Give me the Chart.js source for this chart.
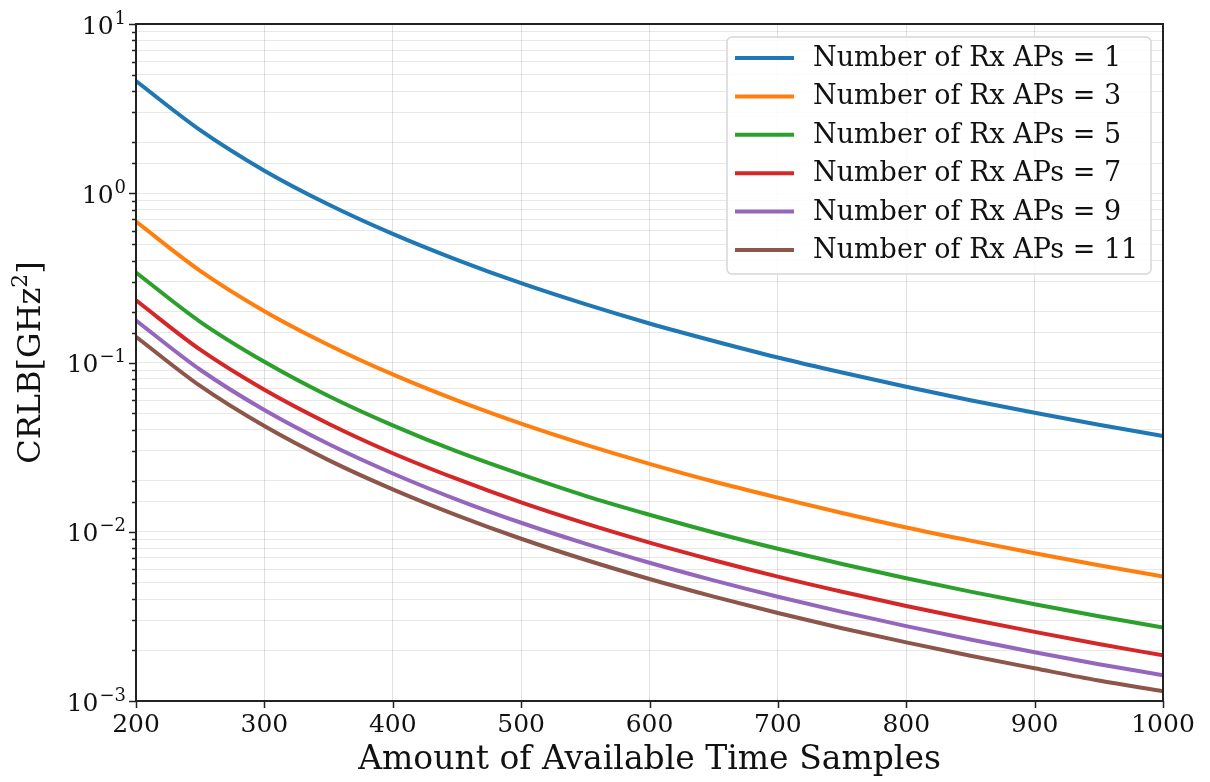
<!DOCTYPE html>
<html>
<head>
<meta charset="utf-8">
<script src="https://cdn.jsdelivr.net/npm/chart.js@4/dist/chart.umd.min.js"></script>
<style>
  html, body { margin: 0; padding: 0; background: #fff; }
  #wrap { width: 1210px; height: 782px; }
</style>
</head>
<body>
<div id="wrap"><canvas id="crlb"></canvas></div>
<script>
// time samples on the x axis
var samples = [200, 250, 300, 350, 400, 450, 500, 550, 600, 650, 700, 750, 800, 850, 900, 950, 1000];

// CRLB values per number of receiving APs
var ap1  = [4.60, 2.36, 1.36, 0.858, 0.575, 0.404, 0.294, 0.221, 0.170, 0.134, 0.107, 0.0872, 0.0719, 0.0599, 0.0505, 0.0429, 0.0368];
var ap3  = [0.680, 0.348, 0.201, 0.127, 0.0850, 0.0597, 0.0435, 0.0327, 0.0252, 0.0198, 0.0159, 0.0129, 0.0106, 0.00886, 0.00746, 0.00634, 0.00544];
var ap5  = [0.340, 0.174, 0.101, 0.0634, 0.0425, 0.0298, 0.0218, 0.0163, 0.0126, 0.00990, 0.00793, 0.00645, 0.00531, 0.00443, 0.00373, 0.00317, 0.00272];
var ap7  = [0.233, 0.119, 0.0690, 0.0435, 0.0291, 0.0205, 0.0149, 0.0112, 0.00863, 0.00679, 0.00543, 0.00442, 0.00364, 0.00304, 0.00256, 0.00217, 0.00186];
var ap9  = [0.177, 0.0906, 0.0524, 0.0330, 0.0221, 0.0155, 0.0113, 0.00851, 0.00656, 0.00516, 0.00413, 0.00336, 0.00277, 0.00231, 0.00194, 0.00165, 0.00142];
var ap11 = [0.142, 0.0727, 0.0421, 0.0265, 0.0178, 0.0125, 0.00909, 0.00683, 0.00526, 0.00414, 0.00331, 0.00269, 0.00222, 0.00185, 0.00156, 0.00132, 0.00114];

var labels = ['Number of Rx APs = 1', 'Number of Rx APs = 3', 'Number of Rx APs = 5',
              'Number of Rx APs = 7', 'Number of Rx APs = 9', 'Number of Rx APs = 11'];
var series = [ap1, ap3, ap5, ap7, ap9, ap11];
var colors = ['#1f77b4', '#ff7f0e', '#2ca02c', '#d62728', '#9467bd', '#8c564b'];

var serif = "'DejaVu Serif', serif";
var textColor = '#111';

function isMajor(v) {
    var e = Math.log10(v);
    return Math.abs(e - Math.round(e)) < 1e-9;
}

var datasets = series.map(function (vals, i) {
    return {
        label: labels[i],
        data: vals.map(function (v, j) { return { x: samples[j], y: v }; }),
        borderColor: colors[i],
        backgroundColor: colors[i],
        borderWidth: 4,
        pointRadius: 0,
        cubicInterpolationMode: 'monotone',
        fill: false
    };
});

// outward tick marks, decade labels with raised exponents, y title and frame
var axisDecor = {
    id: 'axisDecor',
    afterDraw: function (chart) {
        var ctx = chart.ctx;
        var area = chart.chartArea;
        var xs = chart.scales.x, ys = chart.scales.y;
        ctx.save();
        ctx.strokeStyle = '#222';
        ctx.lineWidth = 1.5;
        ctx.beginPath();
        xs.ticks.forEach(function (t) {
            var px = Math.round(xs.getPixelForValue(t.value)) + 0.5;
            ctx.moveTo(px, area.bottom);
            ctx.lineTo(px, area.bottom + 7);
        });
        ys.ticks.forEach(function (t) {
            var py = Math.round(ys.getPixelForValue(t.value)) + 0.5;
            var len = isMajor(t.value) ? 7 : 4;
            ctx.moveTo(area.left, py);
            ctx.lineTo(area.left - len, py);
        });
        ctx.stroke();

        ctx.lineWidth = 2;
        ctx.strokeRect(area.left, area.top, area.right - area.left, area.bottom - area.top);

        // y decade labels: 10 with superscript exponent
        ctx.fillStyle = textColor;
        ctx.textBaseline = 'middle';
        ys.ticks.forEach(function (t) {
            if (!isMajor(t.value)) return;
            var py = ys.getPixelForValue(t.value);
            var exp = String(Math.round(Math.log10(t.value))).replace('-', '\u2212');
            var right = area.left - 10;
            ctx.font = '18px ' + serif;
            ctx.textAlign = 'right';
            ctx.fillText(exp, right, py - 5);
            var ew = ctx.measureText(exp).width;
            ctx.font = '25px ' + serif;
            ctx.fillText('10', right - ew - 1, py + 3);
        });

        // y axis title, rotated
        ctx.translate(32, (area.top + area.bottom) / 2);
        ctx.rotate(-Math.PI / 2);
        var parts = [['CRLB[GHz', 32, 0], ['2', 22, -11], [']', 32, 0]];
        var total = 0;
        parts.forEach(function (p) { ctx.font = p[1] + 'px ' + serif; total += ctx.measureText(p[0]).width; });
        var cx = -total / 2;
        ctx.textAlign = 'left';
        parts.forEach(function (p) {
            ctx.font = p[1] + 'px ' + serif;
            ctx.fillText(p[0], cx, p[2]);
            cx += ctx.measureText(p[0]).width;
        });
        ctx.restore();
    }
};

// boxed legend in the upper right corner of the plot
var boxLegend = {
    id: 'boxLegend',
    afterDatasetsDraw: function (chart) {
        var ctx = chart.ctx;
        var x0 = 727, y0 = 37, w = 424, h = 237;
        ctx.save();
        ctx.fillStyle = 'rgba(255,255,255,0.85)';
        ctx.strokeStyle = '#d6d6d6';
        ctx.lineWidth = 1.5;
        ctx.beginPath();
        ctx.roundRect(x0, y0, w, h, 5);
        ctx.fill();
        ctx.stroke();
        ctx.font = '27px ' + serif;
        ctx.textBaseline = 'middle';
        ctx.fillStyle = textColor;
        chart.data.datasets.forEach(function (ds, i) {
            var yy = y0 + 21 + i * 38.4;
            ctx.strokeStyle = ds.borderColor;
            ctx.lineWidth = 4;
            ctx.beginPath();
            ctx.moveTo(735, yy);
            ctx.lineTo(794, yy);
            ctx.stroke();
            ctx.fillText(ds.label, 813, yy + 1);
        });
        ctx.restore();
    }
};

new Chart(document.getElementById('crlb'), {
    type: 'line',
    data: { datasets: datasets },
    plugins: [axisDecor, boxLegend],
    options: {
        responsive: true,
        maintainAspectRatio: false,
        animation: false,
        layout: { padding: { top: 24, right: 47, left: 0, bottom: 0 } },
        plugins: {
            legend: { display: false },
            tooltip: { enabled: false }
        },
        scales: {
            x: {
                type: 'linear',
                min: 200,
                max: 1000,
                afterFit: function (s) { s.height = 81; },
                border: { display: false },
                grid: { color: 'rgba(0,0,0,0.12)', lineWidth: 1, drawTicks: false },
                ticks: {
                    stepSize: 100,
                    padding: 9,
                    color: textColor,
                    font: { family: serif, size: 25 },
                    callback: function (v) { return String(v); }
                },
                title: {
                    display: true,
                    text: 'Amount of Available Time Samples',
                    color: textColor,
                    font: { family: serif, size: 33 },
                    padding: { top: 0, bottom: 2 }
                }
            },
            y: {
                type: 'logarithmic',
                min: 0.001,
                max: 10,
                afterFit: function (s) { s.width = 136; },
                border: { display: false },
                grid: { color: 'rgba(0,0,0,0.09)', lineWidth: 1, drawTicks: false },
                ticks: {
                    autoSkip: false,
                    display: false
                },
                title: { display: false }
            }
        }
    }
});
</script>
</body>
</html>
